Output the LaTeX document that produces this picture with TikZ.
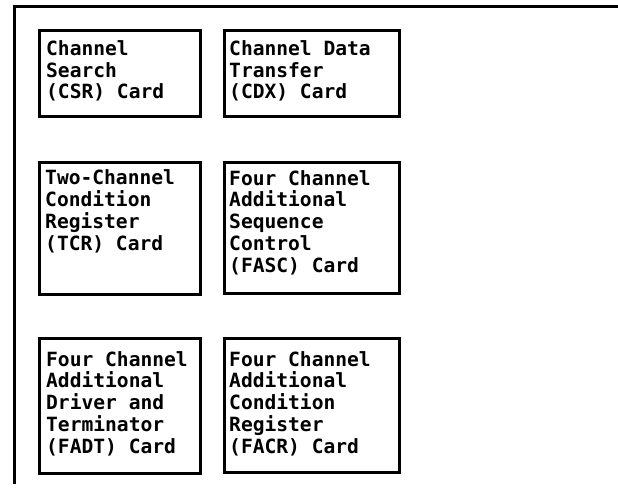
\documentclass[tikz,border=0pt]{standalone}
\usepackage{fontspec}
\newfontfamily\cardfont[BoldFont={DejaVu Sans Mono Bold}]{DejaVu Sans Mono}
\tikzset{
  card/.style={draw, line width=2.9pt, anchor=north west, inner sep=0pt},
  cardtext/.style={anchor=base west, align=left, inner sep=0pt,
    font=\cardfont\bfseries\fontsize{19.6}{21.7}\selectfont}
}
\begin{document}
\begin{tikzpicture}[x=1pt,y=-1pt]
\useasboundingbox (0,0) rectangle (618,489);
% outer frame, open at right and bottom
\draw[line width=3pt] (14.5,484) -- (14.5,6.5) -- (618,6.5);
% cards
\node[card, minimum width=161pt, minimum height=86pt] (csr) at (38,29) {};
\node[card, minimum width=175pt, minimum height=86pt] (cdx) at (223,29) {};
\node[card, minimum width=161pt, minimum height=132pt] (tcr) at (38,161) {};
\node[card, minimum width=175pt, minimum height=131pt] (fasc) at (223,161) {};
\node[card, minimum width=161pt, minimum height=135pt] (fadt) at (38,337) {};
\node[card, minimum width=175pt, minimum height=134pt] (facr) at (223,337) {};
% card texts (anchored at the last line)
\node[cardtext] (csr text) at (46,99) {Channel\\Search\\(CSR) Card};
\node[cardtext] (cdx text) at (229,99) {Channel Data\\Transfer\\(CDX) Card};
\node[cardtext] (tcr text) at (45,250) {Two-Channel\\Condition\\Register\\(TCR) Card};
\node[cardtext] (fasc text) at (229,272) {Four Channel\\Additional\\Sequence\\Control\\(FASC) Card};
\node[cardtext] (fadt text) at (46,453) {Four Channel\\Additional\\Driver and\\Terminator\\(FADT) Card};
\node[cardtext] (facr text) at (229,453) {Four Channel\\Additional\\Condition\\Register\\(FACR) Card};
\end{tikzpicture}
\end{document}
